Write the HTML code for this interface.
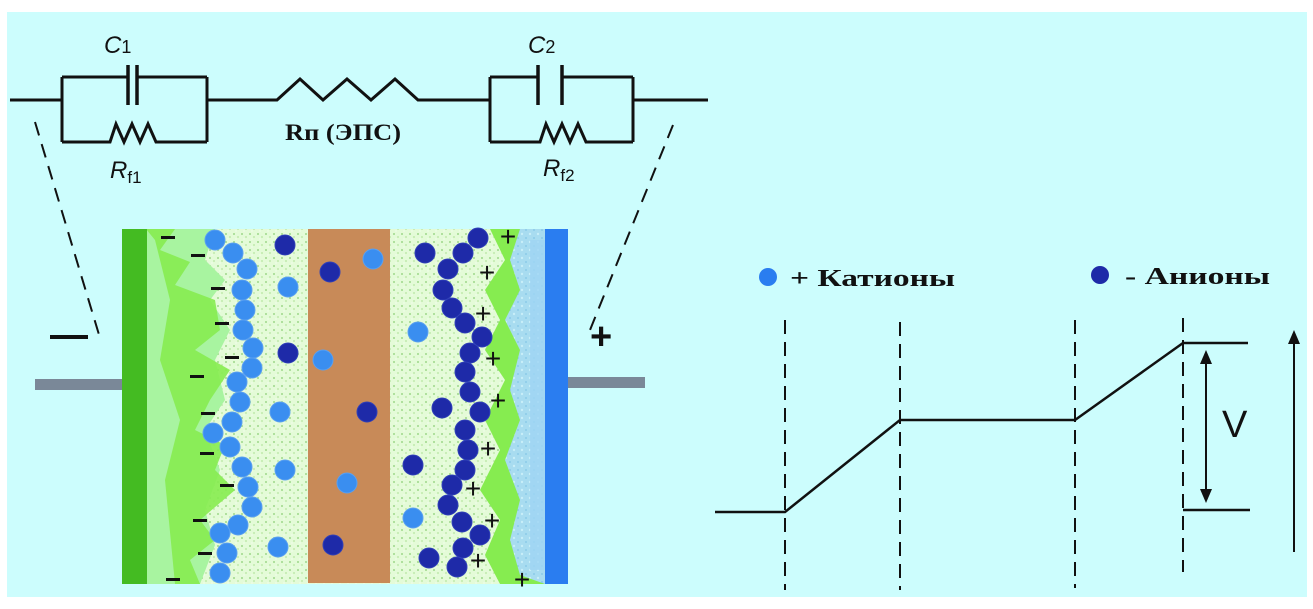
<!DOCTYPE html>
<html><head><meta charset="utf-8"><style>
html,body{margin:0;padding:0;background:#fff;}
svg{display:block;}
</style></head><body>
<svg width="1313" height="609" viewBox="0 0 1313 609" xmlns="http://www.w3.org/2000/svg">
<defs>
<pattern id="spk" width="8" height="8" patternUnits="userSpaceOnUse">
<rect width="8" height="8" fill="#e4fbd8"/>
<circle cx="2" cy="2" r="1" fill="#9ed88a"/><circle cx="6" cy="5" r="0.9" fill="#b6e6a0"/><circle cx="4" cy="7" r="0.7" fill="#f4fff0"/>
</pattern>
<pattern id="spkb" width="8" height="8" patternUnits="userSpaceOnUse">
<rect width="8" height="8" fill="#a8dcf0"/>
<circle cx="2" cy="2" r="1.2" fill="#c8eef8"/><circle cx="6" cy="6" r="1" fill="#8ccbe8"/>
</pattern>
</defs>
<rect x="7" y="12" width="1300" height="585" fill="#ccfdfd"/>

<!-- circuit -->
<g stroke="#111" stroke-width="3" fill="none">
<path d="M10 100 H62 M62 77 V142 M207 77 V142 M62 77 H128 M137 77 H207 M62 142 H110 L116 124 L124 142 L132 124 L140 142 L148 124 L156 142 H207"/>
<path d="M128 65 V105 M137 65 V105" stroke-width="3.5"/>
<path d="M207 100 H277 L300 79 L323 100 L347 79 L371 100 L395 79 L418 100 H490"/>
<path d="M490 77 V142 M633 77 V142 M490 77 H538 M562 77 H633 M490 142 H540 L546 124 L554 142 L562 124 L570 142 L578 124 L586 142 H633 M633 100 H708"/>
<path d="M538 65 V105 M562 65 V105" stroke-width="3.5"/>
<path d="M35 122 L100 338" stroke-dasharray="14,9" stroke-width="2"/>
<path d="M673 125 L590 330" stroke-dasharray="14,9" stroke-width="2"/>
</g>
<g font-family="Liberation Sans, sans-serif" font-style="italic" font-size="24" fill="#111">
<text x="104" y="53">C<tspan font-style="normal" font-size="18">1</tspan></text>
<text x="528" y="53">C<tspan font-style="normal" font-size="18">2</tspan></text>
<text x="110" y="178">R<tspan font-style="normal" font-size="17" dy="5">f1</tspan></text>
<text x="543" y="176">R<tspan font-style="normal" font-size="17" dy="5">f2</tspan></text>
</g>
<text x="285" y="140" font-family="Liberation Serif, serif" font-weight="bold" font-size="23" fill="#111" textLength="116" lengthAdjust="spacingAndGlyphs">Rп (ЭПС)</text>

<!-- left/right terminals -->
<rect x="35" y="379" width="87" height="11" fill="#7a8898"/>
<rect x="568" y="377" width="77" height="11" fill="#7a8898"/>
<rect x="50" y="335" width="38" height="4" fill="#111"/>
<text x="590" y="349" font-family="Liberation Sans, sans-serif" font-weight="bold" font-size="38" fill="#111">+</text>

<!-- cell -->
<rect x="122" y="229" width="446" height="355" fill="url(#spk)"/>
<path d="M146 229 H215 L205 260 L225 280 L210 300 L230 330 L215 360 L225 400 L205 430 L220 470 L205 510 L215 545 L200 584 H146 Z" fill="#a8f4a0"/>
<path d="M146 229 H175 L160 250 L190 262 L175 285 L215 300 L220 330 L195 350 L230 370 L210 400 L195 430 L225 445 L215 470 L235 490 L200 520 L215 540 L190 560 L200 584 H146 Z" fill="#86ec50" opacity="0.9"/>
<path d="M155 240 L170 300 L160 360 L180 420 L165 480 L175 584 H146 V229 Z" fill="#a8f4a0"/>
<path d="M545 229 H490 L505 260 L485 290 L500 320 L485 350 L505 380 L485 420 L500 450 L480 490 L500 520 L485 555 L500 584 H545 Z" fill="#86ec50"/>
<path d="M545 229 H520 L510 260 L520 290 L505 320 L520 350 L510 390 L520 420 L505 460 L520 500 L510 540 L520 575 L545 584 Z" fill="url(#spkb)"/>
<rect x="530" y="240" width="15" height="330" fill="#9fd4f4" opacity="0.8"/>
<rect x="122" y="229" width="25" height="355" fill="#44bb22"/>
<rect x="545" y="229" width="23" height="355" fill="#2a7df0"/>
<rect x="308" y="229" width="82" height="354" fill="#c88a58"/>

<g fill="#3a8ef0" stroke="#5aa0f0" stroke-width="1">
<circle cx="215" cy="240" r="10"/><circle cx="233" cy="253" r="10"/><circle cx="247" cy="269" r="10"/><circle cx="242" cy="290" r="10"/><circle cx="245" cy="310" r="10"/><circle cx="243" cy="330" r="10"/><circle cx="253" cy="348" r="10"/><circle cx="252" cy="368" r="10"/><circle cx="237" cy="382" r="10"/><circle cx="240" cy="402" r="10"/><circle cx="232" cy="422" r="10"/><circle cx="213" cy="433" r="10"/><circle cx="230" cy="447" r="10"/><circle cx="242" cy="467" r="10"/><circle cx="248" cy="487" r="10"/><circle cx="252" cy="507" r="10"/><circle cx="238" cy="525" r="10"/><circle cx="220" cy="533" r="10"/><circle cx="227" cy="553" r="10"/><circle cx="220" cy="573" r="10"/>
<circle cx="288" cy="287" r="10"/><circle cx="280" cy="412" r="10"/><circle cx="285" cy="470" r="10"/><circle cx="278" cy="547" r="10"/><circle cx="373" cy="259" r="10"/><circle cx="323" cy="360" r="10"/><circle cx="347" cy="483" r="10"/><circle cx="418" cy="332" r="10"/><circle cx="413" cy="518" r="10"/>
</g>
<g fill="#1e2aa8" stroke="#3040b8" stroke-width="1">
<circle cx="285" cy="245" r="10"/><circle cx="330" cy="272" r="10"/><circle cx="288" cy="353" r="10"/><circle cx="367" cy="412" r="10"/><circle cx="333" cy="545" r="10"/><circle cx="425" cy="253" r="10"/><circle cx="442" cy="408" r="10"/><circle cx="413" cy="465" r="10"/><circle cx="429" cy="558" r="10"/>
<circle cx="478" cy="238" r="10"/><circle cx="463" cy="253" r="10"/><circle cx="448" cy="269" r="10"/><circle cx="443" cy="290" r="10"/><circle cx="452" cy="308" r="10"/><circle cx="465" cy="323" r="10"/><circle cx="482" cy="337" r="10"/><circle cx="470" cy="353" r="10"/><circle cx="465" cy="372" r="10"/><circle cx="470" cy="392" r="10"/><circle cx="480" cy="412" r="10"/><circle cx="465" cy="430" r="10"/><circle cx="468" cy="450" r="10"/><circle cx="465" cy="470" r="10"/><circle cx="452" cy="485" r="10"/><circle cx="448" cy="505" r="10"/><circle cx="462" cy="522" r="10"/><circle cx="480" cy="535" r="10"/><circle cx="463" cy="548" r="10"/><circle cx="457" cy="567" r="10"/>
</g>
<g fill="#111">
<rect x="161" y="236" width="14" height="3"/><rect x="191" y="254" width="14" height="3"/><rect x="211" y="287" width="14" height="3"/><rect x="215" y="322" width="14" height="3"/><rect x="225" y="356" width="14" height="3"/><rect x="190" y="375" width="14" height="3"/><rect x="201" y="412" width="14" height="3"/><rect x="200" y="452" width="14" height="3"/><rect x="220" y="484" width="14" height="3"/><rect x="193" y="519" width="14" height="3"/><rect x="198" y="552" width="14" height="3"/><rect x="166" y="578" width="14" height="3"/>
</g>
<g font-family="Liberation Sans, sans-serif" font-size="28" fill="#111" text-anchor="middle">
<text x="508" y="246">+</text><text x="487" y="282">+</text><text x="483" y="323">+</text><text x="493" y="368">+</text><text x="498" y="410">+</text><text x="488" y="458">+</text><text x="473" y="498">+</text><text x="492" y="530">+</text><text x="478" y="570">+</text><text x="522" y="589">+</text>
</g>

<!-- legend -->
<circle cx="768" cy="277" r="9" fill="#2a7df0"/>
<circle cx="1100" cy="275" r="9" fill="#1e2aa8"/>
<g font-family="Liberation Serif, serif" font-weight="bold" font-size="24" fill="#111">
<text x="790" y="286" textLength="165" lengthAdjust="spacingAndGlyphs">+ Катионы</text>
<text x="1125" y="284" textLength="145" lengthAdjust="spacingAndGlyphs">- Анионы</text>
</g>

<!-- potential chart -->
<g stroke="#111" stroke-width="2.5" fill="none">
<path d="M715 512 H785 L900 420 H1075 L1183 343 H1248"/>
<path d="M1183 510 H1250"/>
<path d="M785 320 V590 M900 322 V590 M1075 320 V588 M1183 318 V572" stroke-dasharray="14,8" stroke-width="2"/>
<path d="M1206 360 V495" stroke-width="2"/>
<path d="M1294 340 V552" stroke-width="2"/>
</g>
<g fill="#111">
<path d="M1206 350 L1200 364 H1212 Z"/>
<path d="M1206 503 L1200 489 H1212 Z"/>
<path d="M1294 330 L1288 344 H1300 Z"/>
</g>
<text x="1222" y="437" font-family="Liberation Sans, sans-serif" font-size="38" fill="#111">V</text>
</svg>
</body></html>
